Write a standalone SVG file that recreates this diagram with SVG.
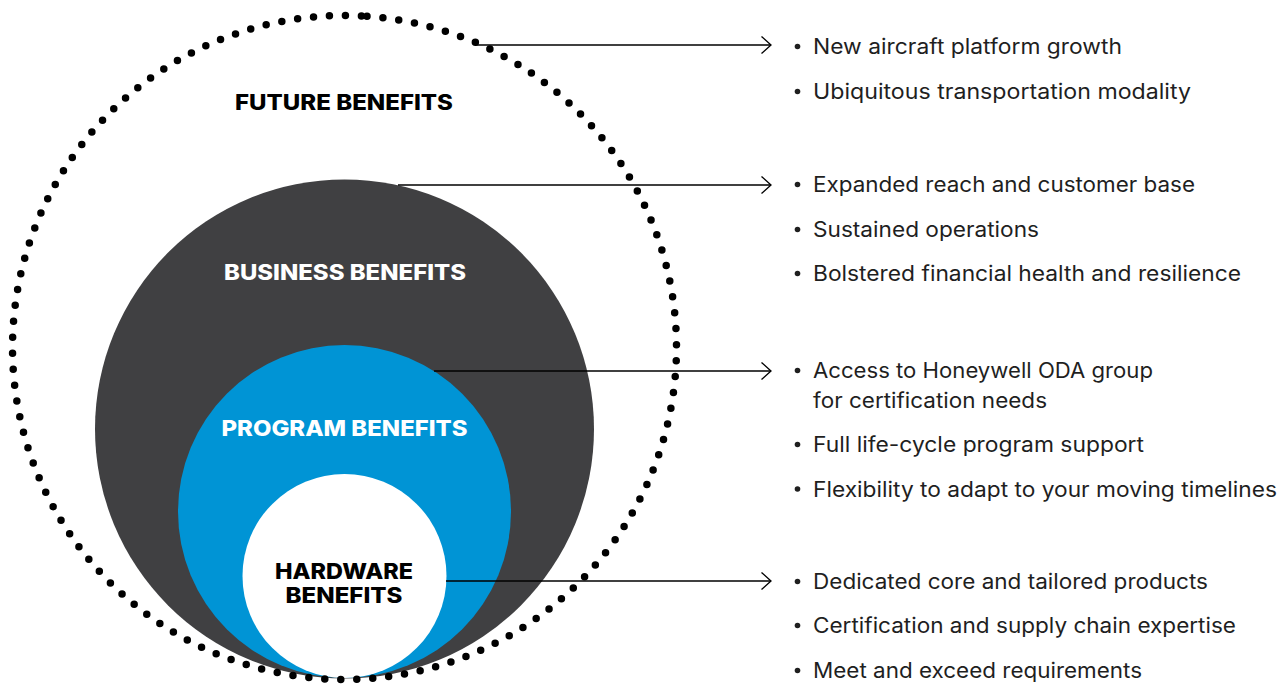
<svg xmlns="http://www.w3.org/2000/svg" width="1287" height="684" viewBox="0 0 1287 684">
  <style>
    .lbl { font-family: Inter, "Liberation Sans", Arial, sans-serif; font-weight: 800; font-size: 21.5px; text-anchor: middle; }
    .item { font-family: Inter, "Liberation Sans", Arial, sans-serif; font-size: 21px; fill: #1f1f1f; }
    .bul { fill: #1f1f1f; }
    .conn { stroke: #000; stroke-width: 1.3; fill: none; marker-end: url(#chev); }
  </style>
  <defs>
    <marker id="chev" markerUnits="userSpaceOnUse" markerWidth="14" markerHeight="20" viewBox="0 0 14 20" refX="10.5" refY="9" orient="auto">
      <path d="M1,0.5 L10.5,9 L1,17.5" fill="none" stroke="#000" stroke-width="1.3"/>
    </marker>
  </defs>
  <rect width="1287" height="684" fill="#fff"/>

  <g id="business">
    <circle cx="344.5" cy="429" r="249.5" fill="#404042"/>
    <text class="lbl" x="345" y="280" fill="#fff" textLength="242" lengthAdjust="spacingAndGlyphs">BUSINESS BENEFITS</text>
  </g>
  <g id="program">
    <circle cx="344.5" cy="511.5" r="166.5" fill="#0094d5"/>
    <text class="lbl" x="344.5" y="436" fill="#fff" textLength="246" lengthAdjust="spacingAndGlyphs">PROGRAM BENEFITS</text>
  </g>
  <g id="hardware">
    <circle cx="344.5" cy="576" r="102" fill="#fff"/>
    <text class="lbl" x="344" y="579" fill="#000" textLength="138" lengthAdjust="spacingAndGlyphs">HARDWARE</text>
    <text class="lbl" x="344" y="603" fill="#000" textLength="117" lengthAdjust="spacingAndGlyphs">BENEFITS</text>
  </g>
  <g id="future">
    <path d="M367,16.26 A332,332 0 1 1 322,16.26 A332,332 0 0 1 367,16.26" fill="none" stroke="#000" stroke-width="7.5" stroke-linecap="round" stroke-dasharray="0 16"/>
    <text class="lbl" x="344" y="109.5" fill="#000" textLength="218" lengthAdjust="spacingAndGlyphs">FUTURE BENEFITS</text>
  </g>

  <g id="connectors">
    <line class="conn" x1="476" y1="45" x2="771" y2="45"/>
    <line class="conn" x1="398" y1="185" x2="771" y2="185"/>
    <line class="conn" x1="434" y1="371" x2="771" y2="371"/>
    <line class="conn" x1="446" y1="581" x2="771" y2="581"/>
  </g>

  <g id="future-items">
    <circle class="bul" cx="797.5" cy="46.5" r="2.8"/>
    <text class="item" x="813" y="54" textLength="309" lengthAdjust="spacingAndGlyphs">New aircraft platform growth</text>
    <circle class="bul" cx="797.5" cy="91.5" r="2.8"/>
    <text class="item" x="813" y="99" textLength="378" lengthAdjust="spacingAndGlyphs">Ubiquitous transportation modality</text>
  </g>
  <g id="business-items">
    <circle class="bul" cx="797.5" cy="184.5" r="2.8"/>
    <text class="item" x="813" y="192" textLength="382" lengthAdjust="spacingAndGlyphs">Expanded reach and customer base</text>
    <circle class="bul" cx="797.5" cy="229.5" r="2.8"/>
    <text class="item" x="813" y="237" textLength="226" lengthAdjust="spacingAndGlyphs">Sustained operations</text>
    <circle class="bul" cx="797.5" cy="273.5" r="2.8"/>
    <text class="item" x="813" y="281" textLength="428" lengthAdjust="spacingAndGlyphs">Bolstered financial health and resilience</text>
  </g>
  <g id="program-items">
    <circle class="bul" cx="797.5" cy="370.5" r="2.8"/>
    <text class="item" x="813" y="378" textLength="340" lengthAdjust="spacingAndGlyphs">Access to Honeywell ODA group</text>
    <text class="item" x="813" y="408" textLength="234" lengthAdjust="spacingAndGlyphs">for certification needs</text>
    <circle class="bul" cx="797.5" cy="444.5" r="2.8"/>
    <text class="item" x="813" y="452" textLength="331" lengthAdjust="spacingAndGlyphs">Full life-cycle program support</text>
    <circle class="bul" cx="797.5" cy="489" r="2.8"/>
    <text class="item" x="813" y="496.5" textLength="464" lengthAdjust="spacingAndGlyphs">Flexibility to adapt to your moving timelines</text>
  </g>
  <g id="hardware-items">
    <circle class="bul" cx="797.5" cy="581.5" r="2.8"/>
    <text class="item" x="813" y="589" textLength="395" lengthAdjust="spacingAndGlyphs">Dedicated core and tailored products</text>
    <circle class="bul" cx="797.5" cy="625.5" r="2.8"/>
    <text class="item" x="813" y="633" textLength="423" lengthAdjust="spacingAndGlyphs">Certification and supply chain expertise</text>
    <circle class="bul" cx="797.5" cy="670.5" r="2.8"/>
    <text class="item" x="813" y="678" textLength="329" lengthAdjust="spacingAndGlyphs">Meet and exceed requirements</text>
  </g>
</svg>
